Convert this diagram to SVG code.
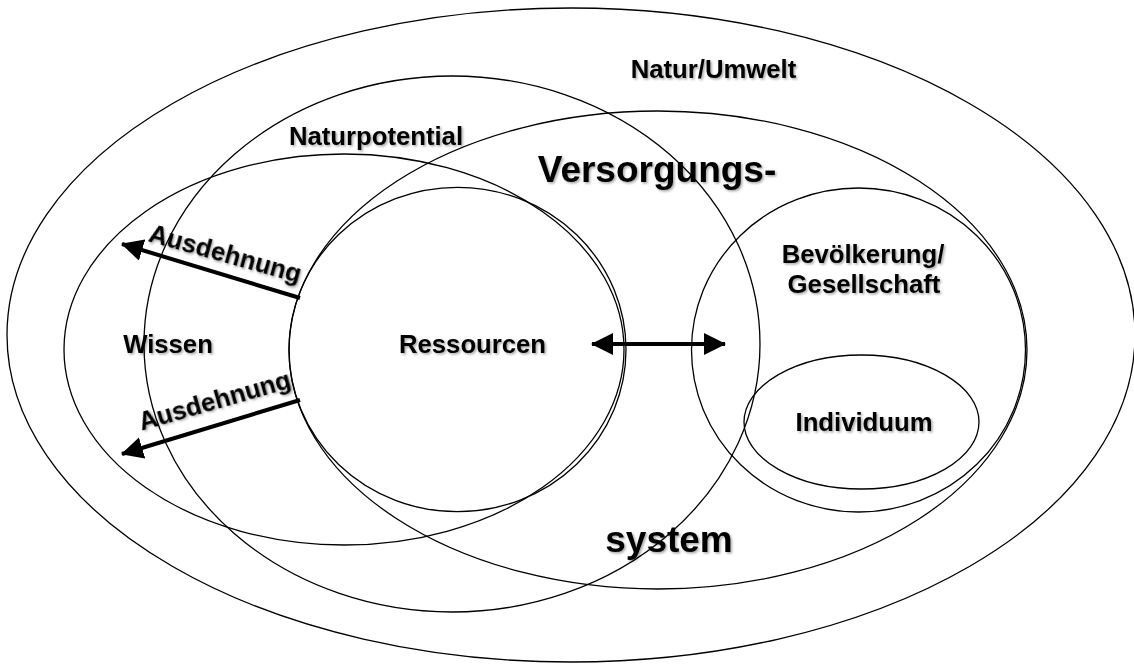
<svg xmlns="http://www.w3.org/2000/svg" width="1134" height="666" viewBox="0 0 1134 666">
  <defs>
    <style>
      .ring { fill: none; stroke: #000; stroke-width: 1.3; }
      .lbl { font-family: "Liberation Sans", Arial, sans-serif; font-weight: bold; font-size: 25.7px; fill: #000; text-anchor: middle; filter: url(#shadow); }
      .big { font-size: 37px; }
      .arrow { fill: none; stroke: #000; stroke-width: 4; }
    </style>
    <filter id="shadow" x="-10%" y="-30%" width="120%" height="160%">
      <feDropShadow dx="1.5" dy="1.5" stdDeviation="0.8" flood-color="#000" flood-opacity="0.35"/>
    </filter>
    <marker id="head" markerUnits="userSpaceOnUse" markerWidth="22" markerHeight="22" refX="21" refY="11" orient="auto-start-reverse">
      <path d="M0,0 L22,11 L0,22 z" fill="#000"/>
    </marker>
  </defs>

  <!-- outer environment -->
  <g id="natur-umwelt">
    <ellipse class="ring" cx="571" cy="335" rx="564" ry="327"/>
    <text class="lbl" x="713.5" y="77.5">Natur/Umwelt</text>
  </g>

  <g id="naturpotential">
    <ellipse class="ring" cx="452" cy="344" rx="308" ry="268"/>
    <text class="lbl" x="376" y="145">Naturpotential</text>
  </g>

  <g id="versorgungssystem">
    <ellipse class="ring" cx="658" cy="350" rx="369" ry="239"/>
    <text class="lbl big" x="657" y="181.5">Versorgungs-</text>
    <text class="lbl big" x="669" y="552">system</text>
  </g>

  <g id="wissen">
    <ellipse class="ring" cx="344" cy="349.5" rx="280" ry="195.5"/>
    <text class="lbl" x="168" y="352.7">Wissen</text>
  </g>

  <g id="ressourcen">
    <ellipse class="ring" cx="457.5" cy="349.5" rx="168.5" ry="162.2"/>
    <text class="lbl" x="472.5" y="353">Ressourcen</text>
  </g>

  <g id="bevoelkerung">
    <ellipse class="ring" cx="858.5" cy="350" rx="167" ry="162"/>
    <text class="lbl" x="863" y="263.3">Bevölkerung/</text>
    <text class="lbl" x="864" y="293.3">Gesellschaft</text>
  </g>

  <g id="individuum">
    <ellipse class="ring" cx="861.5" cy="422" rx="117.5" ry="67"/>
    <text class="lbl" x="864" y="430.5">Individuum</text>
  </g>

  <!-- arrows -->
  <g id="connectors">
    <line class="arrow" x1="300" y1="298" x2="122" y2="244" marker-end="url(#head)"/>
    <line class="arrow" x1="300" y1="400" x2="122" y2="454" marker-end="url(#head)"/>
    <line class="arrow" x1="592" y1="344" x2="725" y2="344" marker-start="url(#head)" marker-end="url(#head)"/>
    <text class="lbl" transform="translate(223,262) rotate(15.5)">Ausdehnung</text>
    <text class="lbl" transform="translate(217,409) rotate(-16)">Ausdehnung</text>
  </g>
</svg>
